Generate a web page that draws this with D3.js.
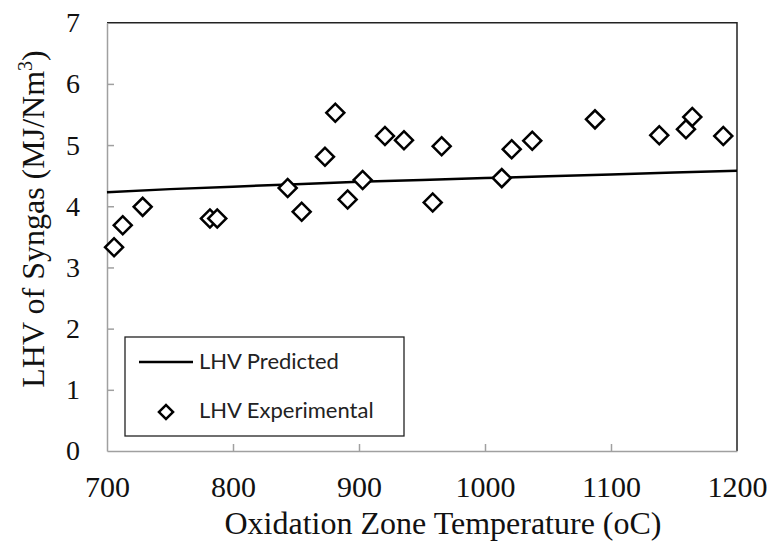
<!DOCTYPE html>
<meta charset="utf-8">
<script src="https://d3js.org/d3.v7.min.js"></script>
<style>
  body { margin: 0; background: #fff; }
</style>
<div id="my_dataviz"></div>
<script>

// experimental points
var tempExp = [705.6, 712.5, 728.3, 781.7, 787.5, 843.4, 854.5, 873.0, 881.2, 891.0, 902.9, 920.6,
               935.7, 958.5, 965.6, 1013.3, 1021.2, 1037.5, 1087.3, 1138.3, 1159.5, 1164.5, 1189.1]
var lhvExp = [3.33, 3.69, 3.99, 3.80, 3.80, 4.30, 3.91, 4.81, 5.53, 4.11, 4.43, 5.15,
              5.08, 4.06, 4.98, 4.46, 4.93, 5.07, 5.42, 5.16, 5.26, 5.46, 5.15]

// model curve
var tempPred = [700, 750, 800, 850, 900, 950, 1000, 1050, 1100, 1150, 1200]
var lhvPred = [4.23, 4.28, 4.32, 4.36, 4.40, 4.43, 4.46, 4.49, 4.52, 4.55, 4.58]

var xTicks = [700, 800, 900, 1000, 1100, 1200]
var yTicks = [0, 1, 2, 3, 4, 5, 6, 7]
var seriesNames = ["LHV Predicted", "LHV Experimental"]

var width = 770,
    height = 550
var margin = {top: 22.7, right: 33, bottom: 99, left: 107}

var svg = d3.select("#my_dataviz")
  .append("svg")
    .attr("width", width)
    .attr("height", height)

var x = d3.scaleLinear().domain([700, 1200]).range([margin.left, width - margin.right])
var y = d3.scaleLinear().domain([0, 7]).range([height - margin.bottom, margin.top])

var serif = "'Liberation Serif', 'Times New Roman', serif"

// top and right border
svg.append("path")
  .attr("d", "M" + x(700) + "," + y(7) + "H" + x(1200) + "V" + y(0))
  .attr("fill", "none")
  .attr("stroke", "#222")
  .attr("stroke-width", 1.5)

// x axis
var gx = svg.append("g")
  .attr("transform", "translate(0," + y(0) + ")")
  .call(d3.axisBottom(x).tickValues(xTicks).tickFormat(d3.format("d"))
    .tickSizeInner(-7).tickSizeOuter(0).tickPadding(25))
gx.attr("font-family", serif).attr("font-size", 30)
gx.selectAll("text").style("font-family", serif).style("font-size", "30px").attr("fill", "#111")

// y axis
var gy = svg.append("g")
  .attr("transform", "translate(" + x(700) + ",0)")
  .call(d3.axisLeft(y).tickValues(yTicks).tickFormat(d3.format("d"))
    .tickSizeInner(-7).tickSizeOuter(0).tickPadding(27))
gy.attr("font-family", serif).attr("font-size", 28)
gy.selectAll("text").style("font-family", serif).style("font-size", "28px").attr("fill", "#111")

svg.selectAll(".domain, .tick line").attr("stroke", "#a0a0a0").attr("stroke-width", 1.5)
// no tick marks at the axis ends
gx.selectAll(".tick line").filter(function(d){ return d == 700 || d == 1200 }).remove()
gy.selectAll(".tick line").filter(function(d){ return d == 0 || d == 7 }).remove()

// axis titles
svg.append("text")
  .attr("x", 443)
  .attr("y", 534)
  .attr("text-anchor", "middle")
  .style("font-family", serif)
  .style("font-size", "32px")
  .attr("fill", "#111")
  .text("Oxidation Zone Temperature (oC)")

var yt = svg.append("text")
  .attr("transform", "translate(44,219) rotate(-90)")
  .attr("text-anchor", "middle")
  .style("font-family", serif)
  .style("font-size", "32px")
  .attr("fill", "#111")
yt.append("tspan").text("LHV of Syngas (MJ/Nm")
yt.append("tspan").style("font-size", "20px").attr("dy", -12).text("3")
yt.append("tspan").attr("dy", 12).text(")")

// predicted line
var line = d3.line()
  .x(function(d, i){ return x(tempPred[i]) })
  .y(function(d){ return y(d) })

svg.append("path")
  .datum(lhvPred)
  .attr("fill", "none")
  .attr("stroke", "#000")
  .attr("stroke-width", 2.5)
  .attr("d", line)

// experimental diamonds
var diamond = d3.symbol().type(d3.symbolSquare).size(162)

svg.selectAll("myPoints")
  .data(lhvExp)
  .enter()
  .append("path")
    .attr("d", diamond)
    .attr("transform", function(d, i){ return "translate(" + x(tempExp[i]) + "," + y(d) + ") rotate(45)" })
    .attr("fill", "#fff")
    .attr("stroke", "#000")
    .attr("stroke-width", 2.5)

// legend
var legend = svg.append("g")
legend.append("rect")
  .attr("x", 125).attr("y", 337)
  .attr("width", 279).attr("height", 99)
  .attr("fill", "#fff")
  .attr("stroke", "#222")
  .attr("stroke-width", 1.3)

legend.append("line")
  .attr("x1", 139).attr("x2", 193)
  .attr("y1", 362).attr("y2", 362)
  .attr("stroke", "#000")
  .attr("stroke-width", 2.5)

legend.append("path")
  .attr("d", d3.symbol().type(d3.symbolSquare).size(100))
  .attr("transform", "translate(166,412) rotate(45)")
  .attr("fill", "#fff")
  .attr("stroke", "#000")
  .attr("stroke-width", 2.5)

legend.selectAll("legendText")
  .data(seriesNames)
  .enter()
  .append("text")
    .attr("x", 199)
    .attr("y", function(d, i){ return 369 + i * 49 })
    .style("font-family", "Lato, 'Open Sans', sans-serif")
    .style("font-size", "22px")
    .attr("fill", "#222")
    .text(function(d){ return d })

</script>
